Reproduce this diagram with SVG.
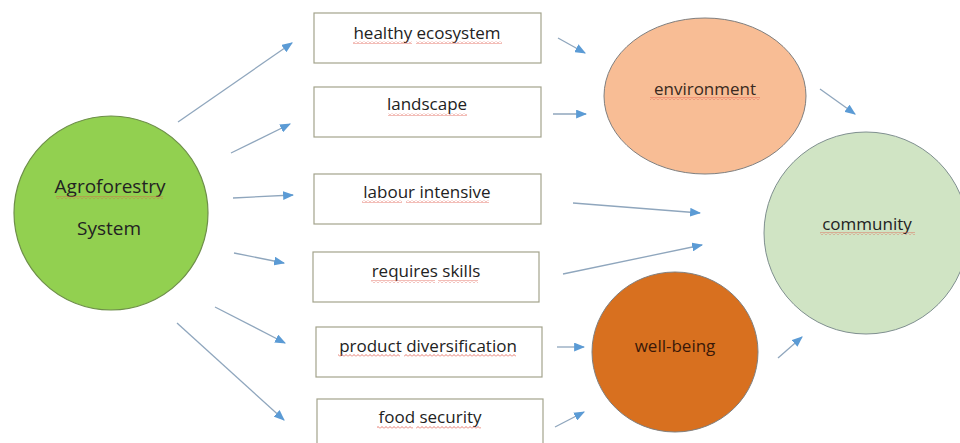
<svg xmlns="http://www.w3.org/2000/svg" width="960" height="443" viewBox="0 0 960 443">
<style>
  .lbl { font-family: "Open Sans", "Liberation Sans", sans-serif; font-size: 17px; fill: #222222; text-anchor: middle; }
  .box { fill: #ffffff; stroke: #a3a38c; stroke-width: 1.2; }
  .conn { stroke: #8fa6bd; stroke-width: 1.3; fill: none; marker-end: url(#ah); }
  .sq { fill: url(#wave); }
</style>
<defs>
  <marker id="ah" viewBox="0 0 10 8" refX="9" refY="4" markerWidth="11" markerHeight="9" markerUnits="userSpaceOnUse" orient="auto">
    <path d="M0,0 L10,4 L0,8 Z" fill="#5b9bd5"/>
  </marker>
  <pattern id="wave" x="0" y="0" width="4" height="3" patternUnits="userSpaceOnUse">
    <path d="M0,2.5 L2,0.5 L4,2.5" fill="none" stroke="#e05a4a" stroke-width="0.8"/>
  </pattern>
</defs>
<rect width="960" height="443" fill="#ffffff"/>

<g id="agroforestry">
  <ellipse cx="111" cy="213" rx="97" ry="97" fill="#92d050" stroke="#6e8f4a" stroke-width="1.2"/>
  <text class="lbl" x="110" y="193" font-size="19" style="font-size:19px">Agroforestry</text>
  <text class="lbl" x="109" y="235" style="font-size:19px">System</text>
  <rect class="sq" x="56" y="196" width="107" height="3"/>
</g>

<g id="healthy-ecosystem">
  <rect class="box" x="314" y="13" width="227" height="50"/>
  <text class="lbl" x="427" y="39">healthy ecosystem</text>
  <rect class="sq" x="353" y="41" width="59" height="3"/>
  <rect class="sq" x="416" y="41" width="86" height="3"/>
</g>
<g id="landscape">
  <rect class="box" x="314" y="87" width="227" height="50"/>
  <text class="lbl" x="427" y="110">landscape</text>
  <rect class="sq" x="388" y="113" width="79" height="3"/>
</g>
<g id="labour-intensive">
  <rect class="box" x="314" y="174" width="227" height="50"/>
  <text class="lbl" x="427" y="198">labour intensive</text>
  <rect class="sq" x="362" y="200" width="40" height="3"/>
  <rect class="sq" x="406" y="200" width="83" height="3"/>
</g>
<g id="requires-skills">
  <rect class="box" x="313" y="252" width="226" height="50"/>
  <text class="lbl" x="426" y="277">requires skills</text>
  <rect class="sq" x="371" y="280" width="64" height="3"/>
  <rect class="sq" x="438" y="280" width="40" height="3"/>
</g>
<g id="product-diversification">
  <rect class="box" x="316" y="327" width="226" height="50"/>
  <text class="lbl" x="428" y="352">product diversification</text>
  <rect class="sq" x="338" y="354" width="62" height="3"/>
  <rect class="sq" x="404" y="354" width="112" height="3"/>
</g>
<g id="food-security">
  <rect class="box" x="317" y="399" width="226" height="50"/>
  <text class="lbl" x="430" y="423">food security</text>
  <rect class="sq" x="377" y="426" width="36" height="3"/>
  <rect class="sq" x="416" y="426" width="65" height="3"/>
</g>

<g id="environment">
  <ellipse cx="705" cy="96" rx="101" ry="78" fill="#f8bd95" stroke="#7f7f7f" stroke-width="1"/>
  <text class="lbl" x="705" y="95" style="fill:#3a2a20">environment</text>
  <rect class="sq" x="650" y="97" width="110" height="3"/>
</g>
<g id="well-being">
  <ellipse cx="675" cy="352" rx="83" ry="80" fill="#d8701f" stroke="#7f7f7f" stroke-width="1"/>
  <text class="lbl" x="675" y="352" style="fill:#3a1808">well-being</text>
</g>
<g id="community">
  <ellipse cx="866" cy="233" rx="102" ry="101" fill="#d0e4c4" stroke="#7f8f8f" stroke-width="1"/>
  <text class="lbl" x="867" y="230">community</text>
  <rect class="sq" x="820" y="232" width="95" height="3"/>
</g>

<g id="connectors">
  <line class="conn" x1="178" y1="122" x2="292" y2="43"/>
  <line class="conn" x1="231" y1="153" x2="290" y2="124"/>
  <line class="conn" x1="233" y1="198" x2="293" y2="195"/>
  <line class="conn" x1="234" y1="253" x2="284" y2="263"/>
  <line class="conn" x1="215" y1="307" x2="285" y2="343"/>
  <line class="conn" x1="177" y1="323" x2="284" y2="420"/>
  <line class="conn" x1="558" y1="38" x2="585" y2="53"/>
  <line class="conn" x1="553" y1="114" x2="586" y2="114"/>
  <line class="conn" x1="820" y1="89" x2="855" y2="114"/>
  <line class="conn" x1="573" y1="203" x2="700" y2="213"/>
  <line class="conn" x1="563" y1="274" x2="702" y2="245"/>
  <line class="conn" x1="557" y1="347" x2="584" y2="347"/>
  <line class="conn" x1="555" y1="427" x2="584" y2="412"/>
  <line class="conn" x1="778" y1="358" x2="802" y2="337"/>
</g>
</svg>
